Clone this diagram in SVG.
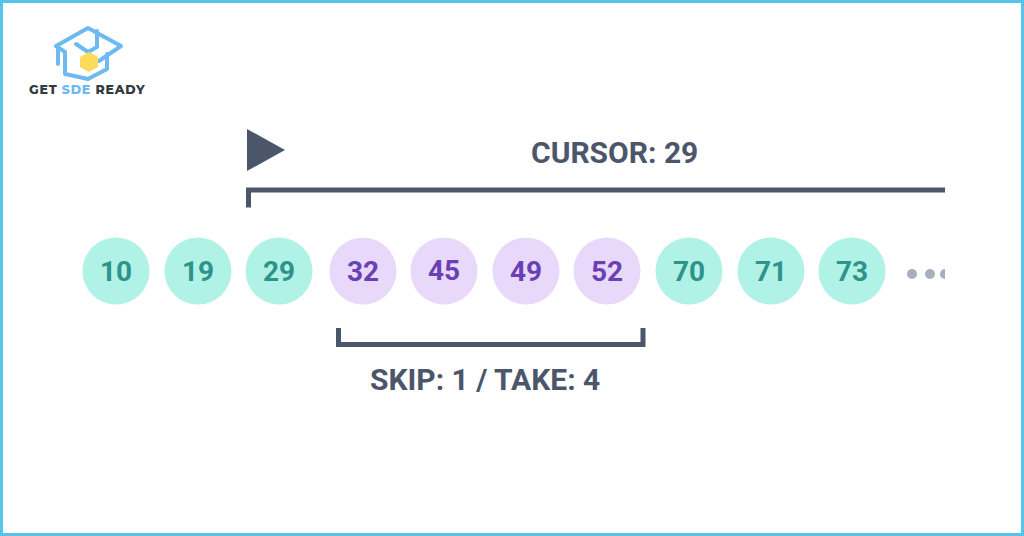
<svg xmlns="http://www.w3.org/2000/svg" width="1024" height="536" viewBox="0 0 1024 536">
<style>
.g{fill:#b0f2e6}.p{fill:#e8d9fb}
.n{font-family:Roboto,"Liberation Sans",sans-serif;font-weight:700;font-size:28px;text-anchor:middle}
.gt{fill:#2f9389}.pt{fill:#6a41b5}
.l{font-family:Roboto,"Liberation Sans",sans-serif;font-weight:700;font-size:30px;fill:#4c566b}
.br{fill:none;stroke:#4c566b;stroke-width:5}
.d{fill:#a7aec0}
.logo{fill:none;stroke:#6db9f2;stroke-width:4;stroke-linejoin:round;stroke-linecap:round}
.lt{font-family:Montserrat,"Open Sans","Liberation Sans",sans-serif;font-weight:800;font-size:12.5px;letter-spacing:.8px}
</style>
<rect x="0" y="0" width="1024" height="536" fill="#fff"/>
<rect x="1.5" y="1.5" width="1021" height="533" fill="none" stroke="#56c5ee" stroke-width="3"/>
<g id="logo">
<path class="logo" d="M56 46 88 28 121 46 99 61M56 46 65 52M65 52V74L88 79 88 79M76 44 88 52 97 47V31M88 79 107 69V54"/>
<path class="logo" d="M58 48V64"/>
<path d="M89 52 98 57V67L89 72 80 67V57Z" fill="#fbdc5a"/>
<text class="lt" x="29" y="94" fill="#333a40">GET <tspan fill="#6db9f2">SDE</tspan> READY</text>
</g>
<g id="connectors">
<path id="cursor-marker" d="M247 129 285 150 247 171Z" fill="#4c566b"/>
<path class="br" d="M248.500 207.500V190H945"/>
<path class="br" d="M338.500 328V344.500H643V328"/>
</g>
<g id="n10"><circle class="g" cx="116" cy="271" r="33.500"/><text class="n gt" x="116" y="281">10</text></g>
<g id="n19"><circle class="g" cx="198" cy="271" r="33.500"/><text class="n gt" x="198" y="281">19</text></g>
<g id="n29"><circle class="g" cx="279" cy="271" r="33.500"/><text class="n gt" x="279" y="281">29</text></g>
<g id="n32"><circle class="p" cx="363" cy="271" r="33.500"/><text class="n pt" x="363" y="281">32</text></g>
<g id="n45"><circle class="p" cx="444" cy="271" r="33.500"/><text class="n pt" x="444" y="280">45</text></g>
<g id="n49"><circle class="p" cx="526" cy="271" r="33.500"/><text class="n pt" x="526" y="281">49</text></g>
<g id="n52"><circle class="p" cx="607" cy="271" r="33.500"/><text class="n pt" x="607" y="281">52</text></g>
<g id="n70"><circle class="g" cx="689" cy="271" r="33.500"/><text class="n gt" x="689" y="281">70</text></g>
<g id="n71"><circle class="g" cx="771" cy="271" r="33.500"/><text class="n gt" x="771" y="281">71</text></g>
<g id="n73"><circle class="g" cx="852" cy="271" r="33.500"/><text class="n gt" x="852" y="281">73</text></g>
<g id="ellipsis"><circle class="d" cx="912" cy="274" r="5"/><circle class="d" cx="930" cy="274" r="5"/><path class="d" d="M945 269A5 5 0 0 0 945 279Z"/></g>
<text id="cursor-label" class="l" x="531" y="163">CURSOR: 29</text>
<text id="skip-label" class="l" x="370" y="390">SKIP: 1 / TAKE: 4</text>
</svg>
